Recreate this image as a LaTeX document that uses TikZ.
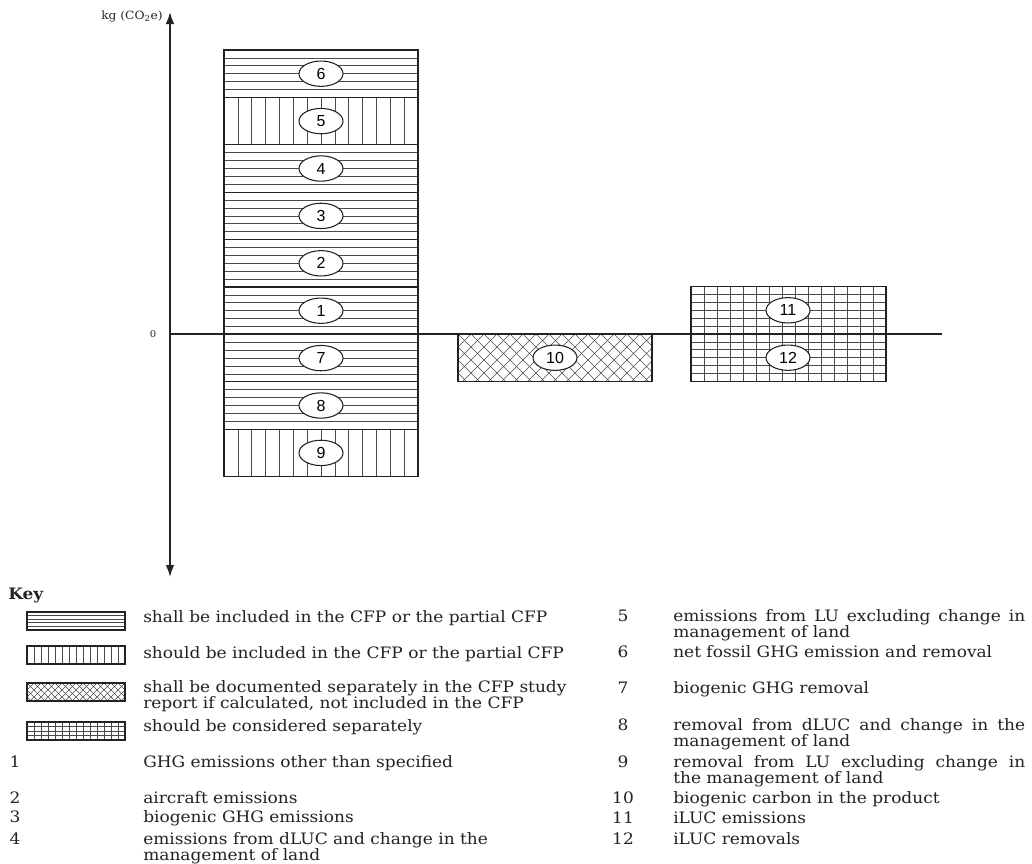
\documentclass[tikz,border=0pt]{standalone}
\usepackage{fontspec}
\setmainfont{DejaVu Serif}
\newfontfamily\keyfont{DejaVu Serif}[FakeStretch=1.08]
\newfontfamily\tagfont{Liberation Sans}
\usetikzlibrary{shapes.geometric,arrows.meta}
\definecolor{ink}{HTML}{222222}
\definecolor{rule}{HTML}{4A4A4A}

\begin{document}
\begin{tikzpicture}[x=0.75pt,y=-0.75pt,
  bar/.style={draw=ink,line width=0.9pt},
  hatch/.style={rule,line width=0.5pt},
  tag/.style={ellipse,draw=ink,line width=0.8pt,fill=white,minimum width=33pt,minimum height=19pt,inner sep=0pt,font=\tagfont\fontsize{12}{12}\selectfont},
  keytext/.style={anchor=base west,inner sep=0pt,text=ink,font=\keyfont\fontsize{11.8}{12}\selectfont},
  keynum/.style={anchor=base,inner sep=0pt,text=ink,font=\keyfont\fontsize{11.8}{12}\selectfont}]
\useasboundingbox (0,0) rectangle (1032,864);
\coordinate (ytop) at (170,12);
\coordinate (ybot) at (170,577);
\coordinate (orig) at (170,334);
\coordinate (xend) at (942,334);
% stacked bar
\foreach \i in {0,2,3,4,5,6,7}
  \foreach \k in {1,...,5}
    \draw[hatch] (224,{50+47.4*\i+7.9*\k}) -- (418,{50+47.4*\i+7.9*\k});
\foreach \i in {1,8}
  \foreach \k in {1,...,13}
    \draw[hatch] ({224+13.86*\k},{50+47.4*\i}) -- ++(0,47.4);
\foreach \i in {0,...,8}
  \draw[bar] (224,{50+47.4*\i}) rectangle ++(194,47.4);
% biogenic carbon
\begin{scope}
\clip (458,334) rectangle (652,381.4);
\foreach \x in {406,419,...,652} \draw[hatch] (\x,334) -- ++(47.4,47.4);
\foreach \x in {458,471,...,704} \draw[hatch] (\x,334) -- ++(-47.4,47.4);
\end{scope}
\draw[bar] (458,334) rectangle (652,381.4);
% iLUC
\foreach \k in {1,...,14} \draw[hatch] ({691+13*\k},286.6) -- ++(0,94.8);
\foreach \k in {1,...,11} \draw[hatch] (691,{286.6+7.9*\k}) -- ++(195,0);
\draw[bar] (691,286.6) rectangle (886,381.4);
% axes
\draw[ink,line width=0.8pt] (orig) -- (xend);
\draw[ink,line width=1.3pt,{Latex[length=9pt,width=6.5pt]}-{Latex[length=9pt,width=6.5pt]}] (ybot) -- (ytop);
\node[text=ink,font=\keyfont\fontsize{7}{8}\selectfont] (zero) at (153,334) {0};
\node[anchor=east,inner sep=0pt,text=ink,font=\keyfont\fontsize{8.5}{9}\selectfont] (ylab) at (163,16) {kg (CO\textsubscript{2}e)};
\foreach \lab [count=\i from 0] in {6,5,4,3,2,1,7,8,9}
  \node[tag] (t\lab) at (321,{73.7+47.4*\i}) {\lab};
\node[tag] (t10) at (555,357.7) {10};
\node[tag] (t11) at (788,310.3) {11};
\node[tag] (t12) at (788,357.7) {12};
% key swatches
\foreach \k in {1,...,4} \draw[hatch] (27,{612+3.6*\k}) -- ++(98,0);
\draw[bar,line width=1.2pt] (27,612) rectangle (125,630);
\foreach \k in {1,...,13} \draw[hatch] ({27+7*\k},646) -- ++(0,18);
\draw[bar,line width=1.2pt] (27,646) rectangle (125,664);
\begin{scope}
\clip (27,683) rectangle (125,701);
\foreach \x in {6,13,...,125} \draw[hatch] (\x,683) -- ++(18,18);
\foreach \x in {27,34,...,146} \draw[hatch] (\x,683) -- ++(-18,18);
\end{scope}
\draw[bar,line width=1.2pt] (27,683) rectangle (125,701);
\foreach \k in {1,...,13} \draw[hatch] ({27+7*\k},722) -- ++(0,18);
\foreach \k in {1,...,3} \draw[hatch] (27,{722+4.5*\k}) -- ++(98,0);
\draw[bar,line width=1.2pt] (27,722) rectangle (125,740);
% key texts (two-line nodes sit on their last line)
\node[keytext,font=\keyfont\bfseries\fontsize{11.8}{12}\selectfont] (key) at (8,599) {Key};
\node[keytext] (d1) at (143,622) {shall be included in the CFP or the partial CFP};
\node[keytext] (d2) at (143,658) {should be included in the CFP or the partial CFP};
\node[keytext,align=left] (d3) at (143,708) {shall be documented separately in the CFP study\\report if calculated, not included in the CFP};
\node[keytext] (d4) at (143,731) {should be considered separately};
\foreach \n/\y in {1/767,2/803,3/822,4/844,5/621,6/657,7/693,8/730,9/767,10/803,11/823,12/844}
  \pgfmathsetmacro\xn{\n<5 ? 15 : 623}
  \node[keynum] (n\n) at (\xn,\y) {\n};
\node[keytext] (e1) at (143,767) {GHG emissions other than specified};
\node[keytext] (e2) at (143,803) {aircraft emissions};
\node[keytext] (e3) at (143,822) {biogenic GHG emissions};
\node[keytext,align=left] (e4) at (143,860) {emissions from dLUC and change in the\\management of land};
\node[keytext,align=left] (e5) at (673,637) {\makebox[264pt][s]{emissions from LU excluding change in}\\management of land};
\node[keytext] (e6) at (673,657) {net fossil GHG emission and removal};
\node[keytext] (e7) at (673,693) {biogenic GHG removal};
\node[keytext,align=left] (e8) at (673,746) {\makebox[264pt][s]{removal from dLUC and change in the}\\management of land};
\node[keytext,align=left] (e9) at (673,783) {\makebox[264pt][s]{removal from LU excluding change in}\\the management of land};
\node[keytext] (e10) at (673,803) {biogenic carbon in the product};
\node[keytext] (e11) at (673,823) {iLUC emissions};
\node[keytext] (e12) at (673,844) {iLUC removals};
\end{tikzpicture}
\end{document}
